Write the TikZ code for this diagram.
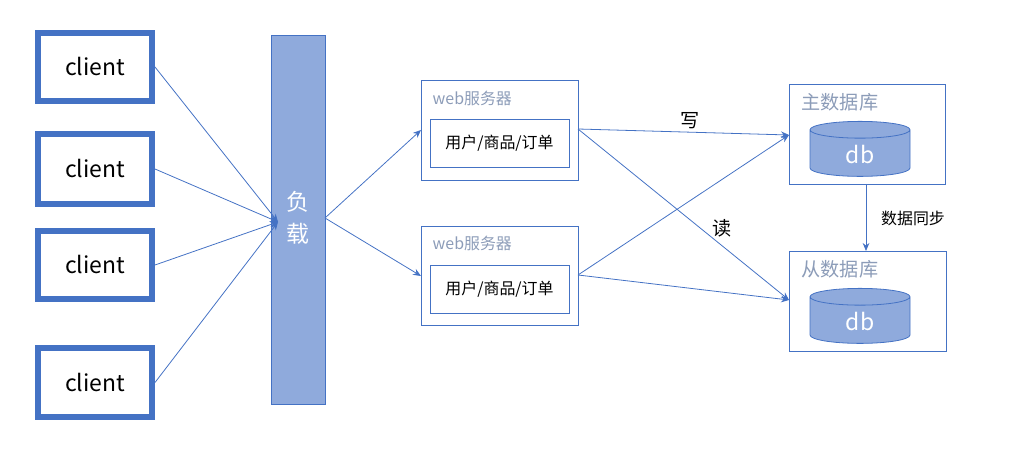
\documentclass[tikz,border=0pt]{standalone}
\usepackage{fontspec}
\setmainfont{Noto Sans CJK SC}
\usetikzlibrary{shapes.geometric,arrows.meta}
\definecolor{bd}{HTML}{4472C4}
\definecolor{lf}{HTML}{8FAADC}
\definecolor{gt}{HTML}{8C9CB8}
\begin{document}
\begin{tikzpicture}[x=0.02646cm,y=-0.02646cm,
 arr/.style={draw=bd,line width=0.6pt,-{Stealth[length=6pt,width=5pt]}},
 box/.style={draw=bd,line width=0.6pt},
 cyl/.style={cylinder,shape border rotate=90,aspect=0.45,draw=bd,fill=lf,line width=0.6pt,minimum width=100*0.02646cm,minimum height=55*0.02646cm,text=white,font=\LARGE}]
\useasboundingbox (0,0) rectangle (1022,464);
\foreach \n/\ya/\yb in {c1/30/104,c2/131/207,c3/228/302,c4/345/420}{
 \draw[draw=bd,line width=4.5pt,fill=white] (38,\ya+3) rectangle (152,\yb-3);
 \node[font=\LARGE] (\n) at (95,{(\ya+\yb)/2}) {client};
 \coordinate (\n r) at (155,{(\ya+\yb)/2});
}
\draw[box,fill=lf] (271,35) rectangle (325,404);
\node[text=white,align=center,font=\LARGE] (lb) at (298,218) {负\\[2pt]载};
\coordinate (lbin) at (278,222); \coordinate (lbout) at (325,218);
% web servers
\draw[box] (421,80) rectangle (578,180);
\node[anchor=west,text=gt,font=\large] (w1t) at (428,98) {web服务器};
\draw[box] (430,119) rectangle (569,167);
\node[font=\large] (w1) at (499.5,143) {用户/商品/订单};
\draw[box] (421,226) rectangle (578,325);
\node[anchor=west,text=gt,font=\large] (w2t) at (428,243) {web服务器};
\draw[box] (430,265) rectangle (569,313);
\node[font=\large] (w2) at (499.5,289) {用户/商品/订单};
\coordinate (w1l) at (421,130); \coordinate (w1r) at (578,129);
\coordinate (w2l) at (421,276); \coordinate (w2r) at (578,275);
% dbs
\draw[box] (789,84) rectangle (945,184);
\node[anchor=west,text=gt,font=\Large] (mt) at (797,102) {主数据库};
\node[cyl] (mdb) at (860,155) {db};
\draw[box] (789,251) rectangle (946,351);
\node[anchor=west,text=gt,font=\Large] (st) at (797,269) {从数据库};
\node[cyl] (sdb) at (860,322) {db};
\coordinate (ml) at (789,135); \coordinate (sl) at (789,300);
\coordinate (mb) at (866,184); \coordinate (stp) at (866,251);
\foreach \n in {c1,c2,c3,c4} \draw[arr] (\n r) -- (lbin);
\draw[arr] (lbout) -- (w1l);
\draw[arr] (lbout) -- (w2l);
\draw[arr] (w1r) -- (ml);
\draw[arr] (w1r) -- (sl);
\draw[arr] (w2r) -- (ml);
\draw[arr] (w2r) -- (sl);
\draw[arr] (mb) -- (stp);
\node[font=\Large] (wr) at (690,121) {写};
\node[font=\Large] (rd) at (722,228) {读};
\node[font=\large] (sync) at (913,218) {数据同步};
\end{tikzpicture}
\end{document}
